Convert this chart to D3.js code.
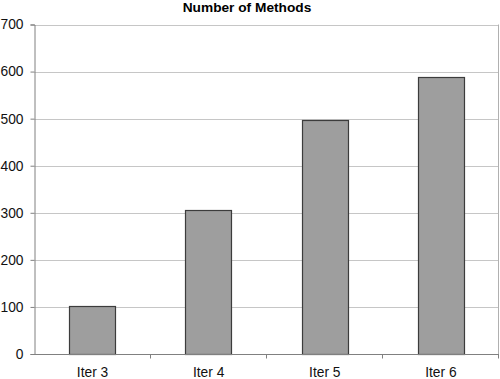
<!DOCTYPE html>
<html>
<head>
<meta charset="utf-8">
<script src="https://cdn.jsdelivr.net/npm/d3@7"></script>
<style>
html,body{margin:0;padding:0;background:#fff;}
svg{display:block;font-family:"Liberation Sans",Arial,sans-serif;}
</style>
</head>
<body>
<svg id="chart" width="500" height="379"></svg>
<script>
const categories = ["Iter 3", "Iter 4", "Iter 5", "Iter 6"];
const values = [103, 306, 498, 588];
const yTicks = [0, 100, 200, 300, 400, 500, 600, 700];
const title = "Number of Methods";

const svg = d3.select("#chart");
const m = {left: 34.5, right: 1, top: 24.5, bottom: 25};
const W = 500, H = 379;
const x = d3.scaleBand().domain(categories).range([m.left, W - m.right]).paddingInner(0.6).paddingOuter(0.3);
const xb = d3.scaleBand().domain(categories).range([m.left, W - m.right]);
const y = d3.scaleLinear().domain([0, 700]).range([H - m.bottom, m.top]);

// gridlines
svg.append("g").selectAll("line").data(yTicks.filter(d => d > 0)).join("line")
  .attr("x1", m.left).attr("x2", W - m.right)
  .attr("y1", d => Math.round(y(d)) + 0.5).attr("y2", d => Math.round(y(d)) + 0.5)
  .attr("stroke", "#c6c6c6").attr("stroke-width", 1);

// right border
svg.append("line").attr("x1", W - m.right - 0.5).attr("x2", W - m.right - 0.5)
  .attr("y1", y(700)).attr("y2", y(0)).attr("stroke", "#b0b0b0");

// bars
svg.append("g").selectAll("rect").data(values).join("rect")
  .attr("x", (d, i) => Math.round(x(categories[i])) + 0.5)
  .attr("width", Math.round(x.bandwidth()))
  .attr("y", d => Math.round(y(d)) + 0.5)
  .attr("height", d => Math.round(y(0)) - Math.round(y(d)))
  .attr("fill", "#9e9e9e").attr("stroke", "#3c3c3c").attr("stroke-width", 1.2);

// y axis
const yAxis = d3.axisLeft(y).tickValues(yTicks).tickSize(4).tickPadding(7);
const gy = svg.append("g").attr("transform", `translate(${m.left},0)`).call(yAxis);
gy.select(".domain").attr("stroke", "#808080");
gy.selectAll(".tick line").attr("stroke", "#808080");
gy.selectAll("text").attr("font-size", "13.8px").attr("fill", "#111")
  .attr("font-family", "'Liberation Sans', Arial, sans-serif");

// x axis
const gx = svg.append("g").attr("transform", `translate(0,${Math.round(y(0)) + 0.5})`);
gx.append("line").attr("x1", m.left).attr("x2", W - m.right).attr("stroke", "#808080");
gx.selectAll(".xt").data(categories).join("line").attr("class", "xt")
  .attr("x1", d => Math.round(xb(d) + xb.bandwidth()) - 0.5).attr("x2", d => Math.round(xb(d) + xb.bandwidth()) - 0.5)
  .attr("y1", 0).attr("y2", 4).attr("stroke", "#808080");
gx.selectAll("text").data(categories).join("text")
  .attr("x", d => xb(d) + xb.bandwidth() / 2).attr("y", 22.5)
  .attr("text-anchor", "middle").attr("font-size", "13.8px").attr("fill", "#111")
  .text(d => d);

// title
svg.append("text").attr("x", 247).attr("y", 12).attr("text-anchor", "middle")
  .attr("font-size", "13.7px").attr("font-weight", "bold").attr("fill", "#000")
  .text(title);
</script>
</body>
</html>
